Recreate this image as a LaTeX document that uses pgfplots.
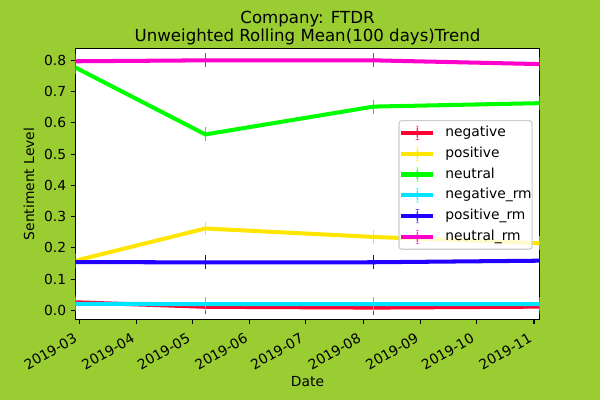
\documentclass[border=0pt]{standalone}
\usepackage{fontspec}
\setmainfont{DejaVu Sans}
\usepackage{pgfplots}
\pgfplotsset{compat=1.18}
\definecolor{bg}{HTML}{9ACD32}
\definecolor{cneg}{HTML}{FF0033}
\definecolor{cpos}{HTML}{FFE600}
\definecolor{cneu}{HTML}{00FF00}
\definecolor{cnegrm}{HTML}{00E5FF}
\definecolor{cposrm}{HTML}{2200FF}
\definecolor{cneurm}{HTML}{FF00CC}
\definecolor{lgframe}{HTML}{CCCCCC}
\pgfplotsset{
  sline/.style={color=#1, line width=2.9bp, mark=none},
  stick/.style={color=#1, line width=1bp, mark=none, unbounded coords=jump, forget plot},
}
\begin{document}
\begin{tikzpicture}
\fill[bg] (-54.3bp,-58bp) rectangle (377.7bp,230.1bp);
\begin{axis}[
  at={(0,0)}, anchor=south west,
  scale only axis, width=334.2bp, height=195.3bp,
  xmin=-2, xmax=248, ymin=-0.0294, ymax=0.8384,
  axis background/.style={fill=white},
  axis line style={black, line width=0.8bp},
  tick align=outside, xtick pos=bottom, ytick pos=left,
  major tick length=3.5bp,
  every tick/.style={black, line width=0.8bp},
  xtick={0,31,61,92,122,153,184,214,245},
  xticklabels={2019-03,2019-04,2019-05,2019-06,2019-07,2019-08,2019-09,2019-10,2019-11},
  ytick={0,0.1,0.2,0.3,0.4,0.5,0.6,0.7,0.8},
  yticklabel style={/pgf/number format/fixed, /pgf/number format/fixed zerofill, /pgf/number format/precision=1, /pgf/number format/assume math mode=true},
  tick label style={font=\fontsize{10}{12}\selectfont},
  xticklabel style={inner sep=0pt, xshift=-4.5bp, yshift=-5.5bp, rotate=30, anchor=north east},
  yticklabel style={inner sep=0pt, anchor=east, xshift=-3bp},
  xlabel={Date}, ylabel={Sentiment Level},
  label style={font=\fontsize{10}{12}\selectfont},
  xlabel style={at={(axis description cs:0.5,-0.2268)}, anchor=center},
  ylabel style={at={(axis description cs:-0.0999,0.5)}, anchor=center},
  title={Company: FTDR\\Unweighted Rolling Mean(100 days)Trend},
  title style={font=\fontsize{12}{12.7}\selectfont, align=center, inner sep=0pt, text depth=0pt, anchor=south, at={(axis description cs:0.5,1)}, yshift=-1bp},
  legend image code/.code={
    \draw[#1] (0bp,0bp) -- (23bp,0bp);
    \pgfinterruptboundingbox
    \fill[#1, draw=none] (11bp,-5bp) rectangle (12bp,5bp);
    \endpgfinterruptboundingbox
  },
  legend cell align=left,
  legend style={at={(axis description cs:0.9851,0.7356)}, anchor=north east,
    draw=lgframe, line width=0.8bp, rounded corners=2bp, fill=white, fill opacity=0.8, text opacity=1, draw opacity=1,
    font=\fontsize{10}{12}\selectfont, inner xsep=0.3bp, inner ysep=3.8bp, row sep=5bp, column sep=7.2bp,
    nodes={inner sep=0pt, text height=7.6bp, text depth=2.4bp}},
]
\addplot[sline=cneg] coordinates {(-2,0.026) (68,0.0115) (158.5,0.009) (248,0.012)};
\addlegendentry{negative}
\addplot[stick=cneg] coordinates {(-2,0.0038) (-2,0.0482) (-2,nan) (68,-0.0107) (68,0.0337) (68,nan) (158.5,-0.0132) (158.5,0.0312) (158.5,nan) (248,-0.0102) (248,0.0342)};
\addplot[sline=cpos] coordinates {(-2,0.159) (68,0.262) (158.5,0.235) (248,0.215)};
\addlegendentry{positive}
\addplot[stick=cpos] coordinates {(-2,0.1368) (-2,0.1812) (-2,nan) (68,0.2398) (68,0.2842) (68,nan) (158.5,0.2128) (158.5,0.2572) (158.5,nan) (248,0.1928) (248,0.2372)};
\addplot[sline=cneu] coordinates {(-2,0.777) (68,0.563) (158.5,0.652) (248,0.663)};
\addlegendentry{neutral}
\addplot[stick=cneu] coordinates {(-2,0.7548) (-2,0.7992) (-2,nan) (68,0.5408) (68,0.5852) (68,nan) (158.5,0.6298) (158.5,0.6742) (158.5,nan) (248,0.6408) (248,0.6852)};
\addplot[sline=cnegrm] coordinates {(-2,0.021) (68,0.020) (158.5,0.020) (248,0.020)};
\addlegendentry{negative\_rm}
\addplot[stick=cnegrm] coordinates {(-2,-0.0012) (-2,0.0432) (-2,nan) (68,-0.0022) (68,0.0422) (68,nan) (158.5,-0.0022) (158.5,0.0422) (158.5,nan) (248,-0.0022) (248,0.0422)};
\addplot[sline=cposrm] coordinates {(-2,0.1546) (68,0.1536) (158.5,0.154) (248,0.159)};
\addlegendentry{positive\_rm}
\addplot[stick=cposrm] coordinates {(-2,0.1324) (-2,0.1768) (-2,nan) (68,0.1314) (68,0.1758) (68,nan) (158.5,0.1318) (158.5,0.1762) (158.5,nan) (248,0.1368) (248,0.1812)};
\addplot[sline=cneurm] coordinates {(-2,0.797) (68,0.800) (158.5,0.800) (248,0.788)};
\addlegendentry{neutral\_rm}
\addplot[stick=cneurm] coordinates {(-2,0.7748) (-2,0.8192) (-2,nan) (68,0.7778) (68,0.8222) (68,nan) (158.5,0.7778) (158.5,0.8222) (158.5,nan) (248,0.7658) (248,0.8102)};
\end{axis}
\pgfresetboundingbox
\useasboundingbox (-54.3bp,-58bp) rectangle (377.7bp,230.1bp);
\end{tikzpicture}
\end{document}
